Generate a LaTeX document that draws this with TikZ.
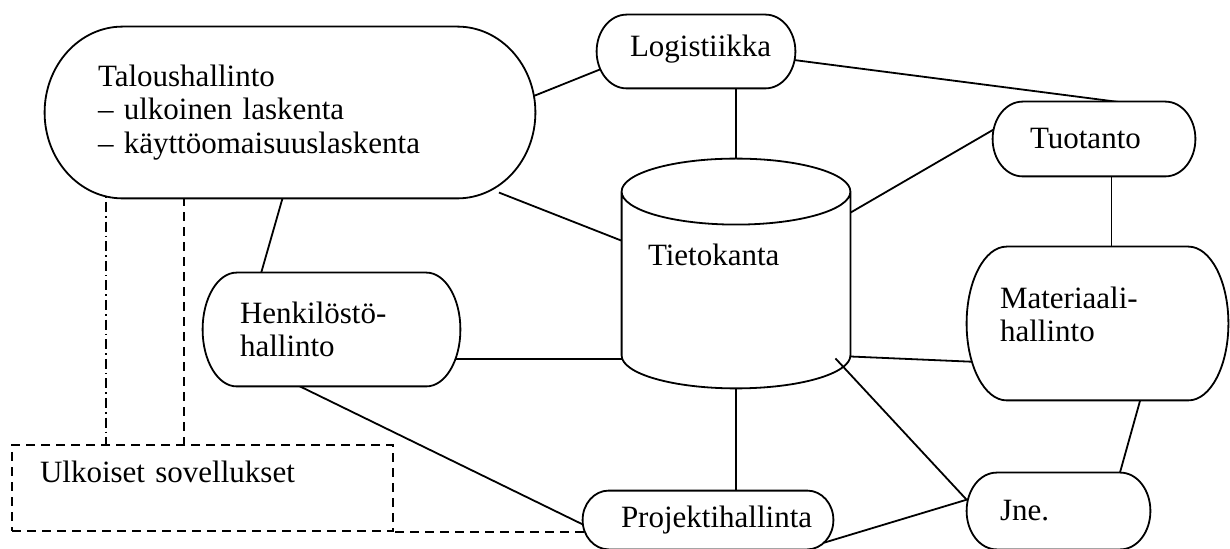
\documentclass[tikz,border=0pt]{standalone}
\usepackage{fontspec}
\setmainfont{Liberation Serif}
\usetikzlibrary{
    calc,
    backgrounds
}
\newcommand{\modfont}{\fontsize{15.5}{16.8}\selectfont}
\tikzset{
    % Application modules (text part)
    module/.style={
        rectangle,
        inner sep=0pt,
        align=left,
        font=\modfont
    },
    % Outline of modules and database
    modborder/.style={
        draw=black,
        line width=0.9pt,
        fill=white
    },
    % External applications
    extbox/.style={
        rectangle,
        draw=black,
        line width=0.9pt,
        dash pattern=on 4.5pt off 3pt,
        inner sep=0pt,
        align=left,
        font=\modfont
    },
    % Connectors
    link/.style={
        line width=0.9pt,
        draw=black,
        shorten <=-8pt,
        shorten >=-8pt
    },
    dashedlink/.style={
        line width=0.9pt,
        draw=black,
        dash pattern=on 4.5pt off 3pt,
        shorten <=-8pt
    },
    dashdotlink/.style={
        line width=0.9pt,
        draw=black,
        dash pattern=on 5pt off 2pt on 0.8pt off 2pt,
        shorten <=-8pt
    }
}
% Pill outline round a module: node, depth of the ends
\newcommand{\pill}[2]{%
    \path[modborder] let \p1=(#1.north west), \p2=(#1.south east),
        \n1={(\y1-\y2)/2} in
        (\x1+#2,\y1) -- (\x2-#2,\y1)
        arc[start angle=90, end angle=-90, x radius=#2, y radius=\n1]
        -- (\x1+#2,\y2)
        arc[start angle=270, end angle=90, x radius=#2, y radius=\n1] -- cycle;
}
% Database outline: node, radius of the caps
\newcommand{\dbdraw}[2]{%
    \path[modborder] let \p1=(#1.north west), \p2=(#1.south east),
        \n1={(\x2-\x1)/2} in
        (\x1,\y1-#2) -- (\x1,\y2+#2)
        arc[start angle=180, end angle=360, x radius=\n1, y radius=#2]
        -- (\x2,\y1-#2)
        arc[start angle=0, end angle=180, x radius=\n1, y radius=#2]
        (\x1,\y1-#2) arc[start angle=180, end angle=360, x radius=\n1, y radius=#2];
}

\begin{document}
\begin{tikzpicture}[x=0.5pt, y=-0.5pt]

    \useasboundingbox (0,0) rectangle (1230,549);

    % Modules
    \node[module, minimum width=245pt, minimum height=85.5pt, text width=192pt] (talous) at (290,112.5)
        {Taloushallinto\\– ulkoinen laskenta\\– käyttöomaisuuslaskenta};
    \node[module, minimum width=99pt, minimum height=36.5pt, text width=66pt,
          text depth=6pt] (logistiikka) at (696,51.5) {Logistiikka};
    \node[module, minimum width=101pt, minimum height=37pt, text width=64pt] (tuotanto) at (1094,139) {Tuotanto};
    \node[module, minimum width=128.5pt, minimum height=56.5pt, text width=91.5pt] (henkilosto) at (331.5,329.5)
        {Henkilöstö-\\hallinto};
    \node[module, minimum width=130.5pt, minimum height=76.5pt, text width=97.5pt,
          text depth=26pt] (materiaali) at (1097.5,323.5) {Materiaali-\\hallinto};
    \node[module, minimum width=125pt, minimum height=29pt, text width=87pt] (projekti) at (708,520) {Projektihallinta};
    \node[module, minimum width=91.5pt, minimum height=38pt, text width=58.5pt] (jne) at (1058.5,511) {Jne.};

    % Database
    \node[module, minimum width=114pt, minimum height=114.5pt, text width=88pt,
          text depth=18.5pt] (tietokanta) at (736,273.5) {Tietokanta};

    % External applications
    \node[extbox, minimum width=190.5pt, minimum height=43pt, text width=162.5pt,
          text height=9pt, text depth=15pt] (ulkoiset) at (202.5,488) {Ulkoiset sovellukset};

    \begin{scope}[on background layer]
        % Links between modules
        \draw[link] (talous.4) -- (logistiikka.191);
        \draw[link] (talous.339) -- (tietokanta.164);
        \draw[link] (talous.265) -- (henkilosto.141);
        \draw[link] ([yshift=-14.75pt]henkilosto.east) -- ([yshift=-14.75pt]henkilosto.east -| tietokanta.west);
        \draw[link] (henkilosto.241) -- (projekti.182);
        \draw[link] (tietokanta.north |- logistiikka.south) -- (tietokanta.north);
        \draw[link] (logistiikka.355) -- (tuotanto.60);
        \draw[link] (tietokanta.28) -- (tuotanto.175);
        \draw[link] (tuotanto.295) -- (tuotanto.295 |- materiaali.north);
        \draw[link] ([yshift=-41.5pt]tietokanta.east) -- ([yshift=-19pt]materiaali.west);
        \draw[link] (tietokanta.south) -- (tietokanta.south |- projekti.north);
        \draw[link] (projekti.351) -- (jne.173);
        \draw[link] (materiaali.299) -- (jne.32);

        % External links
        \draw[dashdotlink] (talous.205) -- (talous.205 |- ulkoiset.north);
        \draw[dashedlink] (talous.219) -- (talous.219 |- ulkoiset.north);
        \draw[dashedlink] (ulkoiset.south east -| projekti.west) -- (ulkoiset.south east);

        % Outlines
        \pill{talous}{39pt}
        \pill{logistiikka}{15pt}
        \pill{tuotanto}{15pt}
        \pill{henkilosto}{17pt}
        \pill{materiaali}{20pt}
        \pill{projekti}{13pt}
        \pill{jne}{15pt}
        \dbdraw{tietokanta}{16.5pt}
    \end{scope}

    \draw[line width=0.9pt] ([shift={(-15,-30)}]tietokanta.south east) -- (jne.173);

\end{tikzpicture}
\end{document}
